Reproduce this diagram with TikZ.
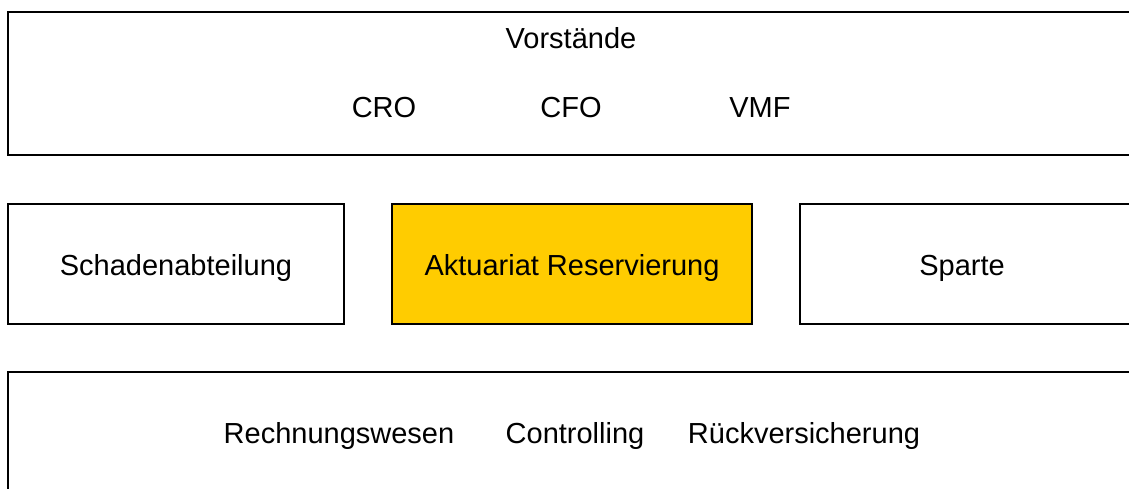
\documentclass[tikz,border=0pt]{standalone}
\usepackage{fontspec}
\setmainfont{Liberation Sans}
\definecolor{gold}{HTML}{FFCC00}
\begin{document}
\begin{tikzpicture}[x=1pt,y=-1pt,
  box/.style={draw=black,line width=2pt,rectangle,inner sep=0pt,outer sep=0pt},
  lbl/.style={anchor=base,inner sep=0pt,font=\fontsize{29}{34}\selectfont}]
  \useasboundingbox (0,0) rectangle (1129,489);
  % frames
  \node[box,minimum width=1140pt,minimum height=143pt,anchor=north west] (board) at (8,12) {};
  \node[box,minimum width=336pt,minimum height=120pt,anchor=north west] (claims) at (8,204) {};
  \node[box,fill=gold,minimum width=360pt,minimum height=120pt,anchor=north west] (actuary) at (392,204) {};
  \node[box,minimum width=340pt,minimum height=120pt,anchor=north west] (line) at (800,204) {};
  \node[box,minimum width=1140pt,minimum height=130pt,anchor=north west] (finance) at (8,372) {};
  % labels
  \node[lbl] (vorst) at (571,49) {Vorstände};
  \node[lbl] (cro) at (384,118) {CRO};
  \node[lbl] (cfo) at (571,118) {CFO};
  \node[lbl] (vmf) at (760,118) {VMF};
  \node[lbl] (schaden) at (176,275) {Schadenabteilung};
  \node[lbl] (akt) at (572,275) {Aktuariat Reservierung};
  \node[lbl] (sparte) at (962,275) {Sparte};
  \node[lbl] (rw) at (339,443) {Rechnungswesen};
  \node[lbl] (ctrl) at (575,443) {Controlling};
  \node[lbl] (rv) at (804,443) {Rückversicherung};
\end{tikzpicture}
\end{document}
